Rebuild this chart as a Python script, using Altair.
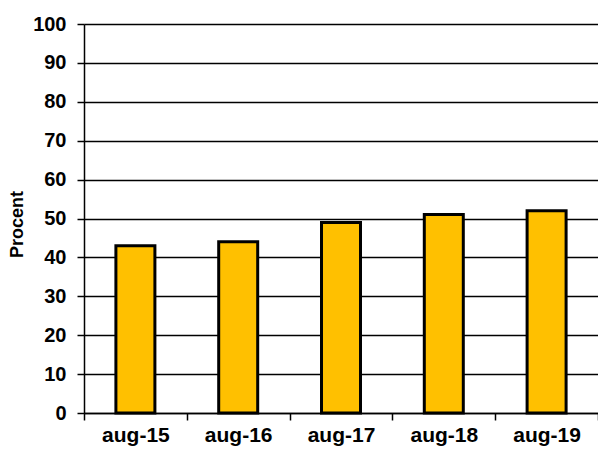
import altair as alt
import pandas as pd

categories = ["aug-15", "aug-16", "aug-17", "aug-18", "aug-19"]
values = [43, 44, 49, 51, 52]

df = pd.DataFrame({"period": categories, "procent": values})

FONT = "Liberation Sans"

chart = alt.Chart(df).mark_bar(
    size=39, color="#FFC000", stroke="black", strokeWidth=3
).encode(
    x=alt.X(
        "period:N",
        sort=categories,
        title=None,
        scale=alt.Scale(paddingInner=0, paddingOuter=0),
        axis=alt.Axis(
            labelAngle=0,
            labelFont=FONT,
            labelFontSize=21,
            labelFontWeight="bold",
            labelColor="black",
            labelPadding=4,
            tickBand="extent",
            tickSize=7,
            tickColor="black",
            tickWidth=1.5,
            domainColor="black",
            domainWidth=1.5,
            grid=False,
        ),
    ),
    y=alt.Y(
        "procent:Q",
        title="Procent",
        scale=alt.Scale(domain=[0, 100]),
        axis=alt.Axis(
            values=list(range(0, 101, 10)),
            labelFont=FONT,
            labelFontSize=20,
            labelFontWeight="bold",
            labelColor="black",
            labelPadding=11,
            tickSize=7,
            tickColor="black",
            tickWidth=1.5,
            domainColor="black",
            domainWidth=1.5,
            grid=True,
            gridColor="black",
            gridWidth=1.5,
            gridOpacity=1,
            titleFont=FONT,
            titleFontSize=18,
            titleFontWeight="bold",
            titleColor="black",
            titleX=-58,
            titleY=200,
            titleAlign="center",
        ),
    ),
).properties(
    width=514,
    height=389,
    autosize=alt.AutoSizeParams(type="none"),
    padding={"left": 76, "top": 16, "right": 0, "bottom": 37},
).configure_view(stroke=None).configure(background="white")

chart.save("out.html", embed_options={"renderer": "svg", "actions": False})
